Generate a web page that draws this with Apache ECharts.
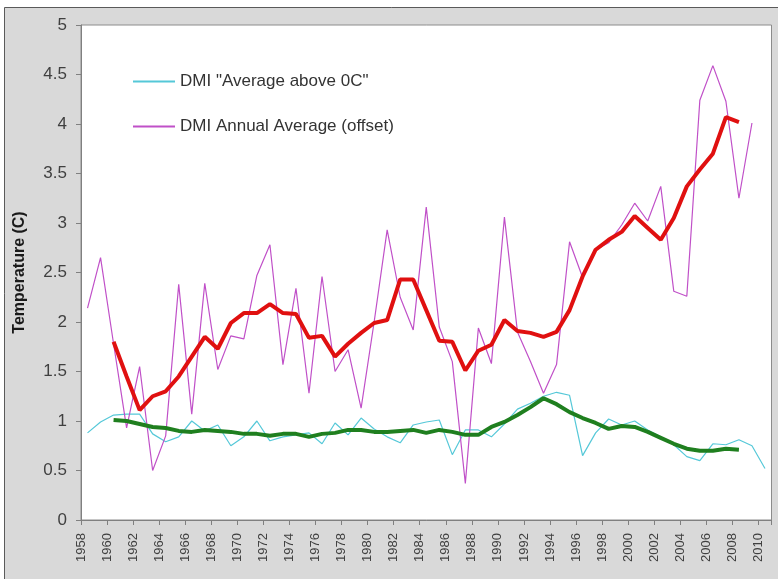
<!DOCTYPE html>
<html>
<head>
<meta charset="utf-8">
<script src="https://cdn.jsdelivr.net/npm/echarts@6/dist/echarts.min.js"></script>
<style>
html,body{margin:0;padding:0;background:#fff;}
#c{width:778px;height:579px;}
</style>
</head>
<body>
<div id="c"></div>
<script>
var years = [];
for (var y = 1958; y <= 2010; y++) years.push(String(y));

var aboveZero = [0.88,0.99,1.06,1.07,1.07,0.87,0.79,0.84,1.00,0.90,
  0.96,0.75,0.84,1.00,0.80,0.84,0.86,0.88,0.77,0.98,
  0.86,1.03,0.92,0.84,0.78,0.96,0.99,1.01,0.66,0.91,
  0.91,0.84,0.97,1.12,1.18,1.25,1.29,1.26,0.65,0.88,
  1.02,0.96,1.00,0.91,0.84,0.76,0.64,0.60,0.77,0.76,
  0.81,0.75,0.52];

var annualOffset = [2.14,2.65,1.78,0.93,1.55,0.50,0.85,2.38,1.07,2.39,
  1.52,1.86,1.83,2.47,2.78,1.57,2.34,1.28,2.46,1.50,
  1.72,1.13,2.00,2.93,2.25,1.92,3.16,1.95,1.60,0.37,
  1.94,1.58,3.06,1.90,1.60,1.28,1.57,2.81,2.45,2.73,
  2.80,2.98,3.20,3.02,3.37,2.31,2.26,4.24,4.59,4.23,
  3.25,4.01,null];

var annualSmooth = [null,null,1.80,1.45,1.11,1.25,1.30,1.45,1.65,1.85,
  1.73,1.99,2.09,2.09,2.18,2.09,2.08,1.84,1.86,1.65,
  1.78,1.89,1.99,2.02,2.43,2.43,2.12,1.81,1.80,1.51,
  1.71,1.77,2.02,1.91,1.89,1.85,1.90,2.12,2.46,2.73,
  2.83,2.91,3.07,2.95,2.83,3.05,3.37,3.54,3.70,4.07,
  4.02,null,null];

var aboveZeroSmooth = [null,null,1.01,1.00,0.97,0.94,0.93,0.90,0.89,0.91,
  0.90,0.89,0.87,0.87,0.85,0.87,0.87,0.84,0.87,0.88,
  0.91,0.91,0.89,0.89,0.90,0.91,0.88,0.91,0.89,0.86,
  0.86,0.94,0.99,1.06,1.14,1.23,1.17,1.09,1.03,0.98,
  0.92,0.95,0.94,0.89,0.83,0.77,0.72,0.70,0.70,0.72,
  0.71,null,null];

var yTicks = {min: 0, max: 5, interval: 0.5};

var FONT = 'Liberation Sans, Arial, sans-serif';
var chart = echarts.init(document.getElementById('c'), null, {renderer: 'canvas'});
chart.setOption({
  backgroundColor: '#ffffff',
  animation: false,
  graphic: [{
    type: 'rect', z: -10, silent: true,
    shape: {x: 4.5, y: 7.5, width: 790, height: 590},
    style: {fill: '#d9d9d9', stroke: '#5a5a5a', lineWidth: 1}
  }],
  grid: {
    left: 81, right: 6.5, top: 25, bottom: 59,
    show: true, backgroundColor: '#ffffff', borderColor: '#8c8c8c', borderWidth: 1
  },
  legend: {
    orient: 'vertical', left: 133, top: 73, padding: 0,
    itemGap: 28, itemWidth: 42, itemHeight: 2,
    icon: 'rect',
    textStyle: {fontFamily: FONT, fontSize: 17, color: '#333'},
    data: ['DMI "Average above 0C"', 'DMI Annual Average (offset)']
  },
  xAxis: {
    type: 'category', data: years, boundaryGap: true,
    axisLine: {lineStyle: {color: '#808080', width: 1}},
    axisTick: {show: true, interval: 1, length: 5, lineStyle: {color: '#808080'}},
    axisLabel: {
      interval: 1, rotate: 90, margin: 13, verticalAlign: 'bottom', lineHeight: 13,
      fontFamily: FONT, fontSize: 13, color: '#404040'
    },
    splitLine: {show: false}
  },
  yAxis: {
    type: 'value', min: yTicks.min, max: yTicks.max, interval: yTicks.interval,
    name: 'Temperature (C)', nameLocation: 'middle', nameGap: 53,
    nameTextStyle: {fontFamily: FONT, fontSize: 16, fontWeight: 'bold', color: '#1a1a1a'},
    axisLine: {show: true, lineStyle: {color: '#808080', width: 1}},
    axisTick: {show: true, length: 5, lineStyle: {color: '#808080'}},
    axisLabel: {margin: 14, fontFamily: FONT, fontSize: 17, color: '#404040'},
    splitLine: {show: false}
  },
  series: [
    {
      name: 'DMI "Average above 0C"', type: 'line', data: aboveZero,
      symbol: 'none', color: '#55c8d8', lineStyle: {width: 1.2, color: '#55c8d8'}, z: 2
    },
    {
      name: 'DMI Annual Average (offset)', type: 'line', data: annualOffset,
      symbol: 'none', color: '#c050c8', lineStyle: {width: 1.2, color: '#c050c8'}, z: 3
    },
    {
      name: 'annual smooth', type: 'line', data: annualSmooth,
      symbol: 'none', color: '#e01010', lineStyle: {width: 4, color: '#e01010'}, z: 4
    },
    {
      name: 'above zero smooth', type: 'line', data: aboveZeroSmooth,
      symbol: 'none', color: '#1f7f1f', lineStyle: {width: 4, color: '#1f7f1f'}, z: 4
    }
  ]
});
</script>
</body>
</html>
